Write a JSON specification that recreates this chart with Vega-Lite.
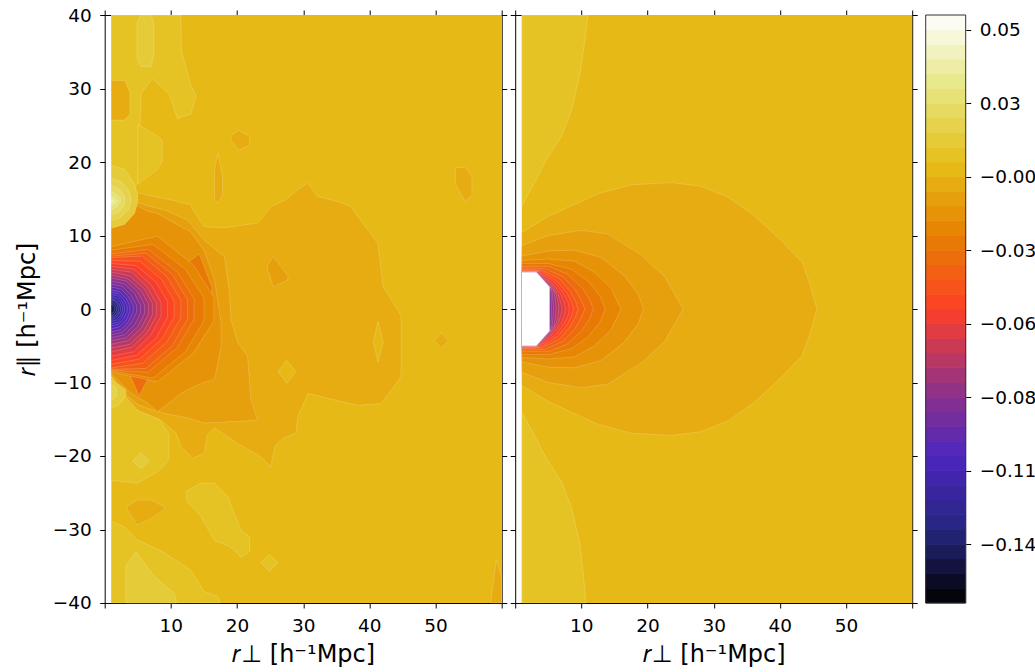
{
  "$schema": "https://vega.github.io/schema/vega-lite/v6.json",
  "description": "Two contour panels of a correlation field with a discrete colour bar",
  "background": "white",
  "padding": {"left": 14.7, "top": 6, "right": 0, "bottom": 0},
  "spacing": 13.5,
  "bounds": "flush",
  "resolve": {"scale": {"color": "shared"}},
  "config": {
    "font": "DejaVu Sans",
    "view": {"stroke": null},
    "axis": {
      "labelFont": "DejaVu Sans", "labelFontSize": 18.5, "labelColor": "#000",
      "tickColor": "#000", "tickSize": 5, "tickWidth": 1,
      "domainColor": "#000", "domainWidth": 1, "grid": false,
      "titleFont": "DejaVu Sans", "titleFontSize": 24, "titleFontWeight": "normal", "titleColor": "#000",
      "labelFlush": false, "labelOverlap": false, "labelPadding": 8.5, "zindex": 1
    }
  },
  "datasets": {
    "left": [
      {"r":"a00","v":0.0016,"x":1,"lo":-40,"hi":40},{"r":"a00","v":0.0016,"x":60,"lo":-40,"hi":40},
      {"r":"a01","v":0.0071,"x":1,"lo":15.7,"hi":40},{"r":"a01","v":0.0071,"x":3,"lo":15.7,"hi":40},{"r":"a01","v":0.0071,"x":5,"lo":17,"hi":40},{"r":"a01","v":0.0071,"x":5.5,"lo":29.3,"hi":40},{"r":"a01","v":0.0071,"x":7.2,"lo":31.3,"hi":40},{"r":"a01","v":0.0071,"x":9.75,"lo":29.3,"hi":40},{"r":"a01","v":0.0071,"x":11,"lo":25.9,"hi":40},{"r":"a01","v":0.0071,"x":11.5,"lo":26.1,"hi":40},{"r":"a01","v":0.0071,"x":11.6,"lo":26.2,"hi":35.1},{"r":"a01","v":0.0071,"x":12.3,"lo":26.3,"hi":32.9},{"r":"a01","v":0.0071,"x":13,"lo":26.5,"hi":30.5},{"r":"a01","v":0.0071,"x":13.8,"lo":29,"hi":29},
      {"r":"a02","v":0.0071,"x":5,"lo":17,"hi":25.1},{"r":"a02","v":0.0071,"x":8,"lo":19,"hi":23.5},{"r":"a02","v":0.0071,"x":8.7,"lo":20.2,"hi":22.9},
      {"r":"a03","v":0.0125,"x":4.9,"lo":34,"hi":39},{"r":"a03","v":0.0125,"x":5.5,"lo":33,"hi":40},{"r":"a03","v":0.0125,"x":7,"lo":33,"hi":40},{"r":"a03","v":0.0125,"x":7.4,"lo":34.5,"hi":39},
      {"r":"a04","v":-0.0038,"x":1,"lo":25.7,"hi":31.1},{"r":"a04","v":-0.0038,"x":3,"lo":25.7,"hi":31.1},{"r":"a04","v":-0.0038,"x":3.8,"lo":26.5,"hi":29.5},
      {"r":"a05","v":0.0071,"x":1,"lo":-23.3,"hi":-9.2},{"r":"a05","v":0.0071,"x":4.9,"lo":-23.7,"hi":-13.7},{"r":"a05","v":0.0071,"x":8.2,"lo":-22,"hi":-15},{"r":"a05","v":0.0071,"x":9.7,"lo":-20.5,"hi":-17},
      {"r":"a06","v":0.0125,"x":4.2,"lo":-20.65,"hi":-20.65},{"r":"a06","v":0.0125,"x":5.45,"lo":-21.7,"hi":-19.6},{"r":"a06","v":0.0125,"x":6.7,"lo":-20.65,"hi":-20.65},
      {"r":"a07","v":0.0071,"x":1,"lo":-40,"hi":-28.9},{"r":"a07","v":0.0071,"x":2.9,"lo":-40,"hi":-29.6},{"r":"a07","v":0.0071,"x":4.9,"lo":-40,"hi":-31.4},{"r":"a07","v":0.0071,"x":8.7,"lo":-40,"hi":-33},{"r":"a07","v":0.0071,"x":13,"lo":-40,"hi":-35.5},{"r":"a07","v":0.0071,"x":15,"lo":-40,"hi":-38.4},{"r":"a07","v":0.0071,"x":17.1,"lo":-40,"hi":-39.1},{"r":"a07","v":0.0071,"x":17.5,"lo":-40,"hi":-40},
      {"r":"a08","v":0.0125,"x":3.2,"lo":-40,"hi":-35},{"r":"a08","v":0.0125,"x":4.7,"lo":-40,"hi":-33},{"r":"a08","v":0.0125,"x":7.5,"lo":-40,"hi":-36.4},{"r":"a08","v":0.0125,"x":10.5,"lo":-40,"hi":-38.7},{"r":"a08","v":0.0125,"x":10.8,"lo":-40,"hi":-39.8},
      {"r":"a09","v":-0.0038,"x":3.4,"lo":-27.3,"hi":-26.9},{"r":"a09","v":-0.0038,"x":4.9,"lo":-29.4,"hi":-26},{"r":"a09","v":-0.0038,"x":7,"lo":-28.5,"hi":-26},{"r":"a09","v":-0.0038,"x":9,"lo":-27.3,"hi":-26.9},
      {"r":"a10","v":0.0071,"x":12.3,"lo":-26,"hi":-24.8},{"r":"a10","v":0.0071,"x":14.5,"lo":-28.2,"hi":-23.7},{"r":"a10","v":0.0071,"x":16.6,"lo":-31.5,"hi":-23.7},{"r":"a10","v":0.0071,"x":18.6,"lo":-32.2,"hi":-25.5},{"r":"a10","v":0.0071,"x":19.3,"lo":-32.6,"hi":-27.1},{"r":"a10","v":0.0071,"x":20.6,"lo":-33.8,"hi":-30.1},{"r":"a10","v":0.0071,"x":21.9,"lo":-33,"hi":-31},
      {"r":"a11","v":0.0071,"x":23.6,"lo":-34.5,"hi":-34.5},{"r":"a11","v":0.0071,"x":24.9,"lo":-35.7,"hi":-33.4},{"r":"a11","v":0.0071,"x":26.2,"lo":-34.5,"hi":-34.5},
      {"r":"a12","v":-0.0038,"x":58.4,"lo":-40,"hi":-39.5},{"r":"a12","v":-0.0038,"x":59.2,"lo":-40,"hi":-34.1},{"r":"a12","v":-0.0038,"x":60,"lo":-40,"hi":-36.5},
      {"r":"a13","v":-0.0038,"x":1,"lo":-9.2,"hi":16.5},{"r":"a13","v":-0.0038,"x":2.7,"lo":-11.5,"hi":16.2},{"r":"a13","v":-0.0038,"x":5,"lo":-13.8,"hi":15.8},{"r":"a13","v":-0.0038,"x":8.5,"lo":-15.1,"hi":15.1},{"r":"a13","v":-0.0038,"x":10.8,"lo":-16.9,"hi":14.7},{"r":"a13","v":-0.0038,"x":11.5,"lo":-18.7,"hi":14.5},{"r":"a13","v":-0.0038,"x":13,"lo":-20,"hi":14.2},{"r":"a13","v":-0.0038,"x":13.3,"lo":-20.3,"hi":13.5},{"r":"a13","v":-0.0038,"x":15.05,"lo":-19.6,"hi":11.2},{"r":"a13","v":-0.0038,"x":15.5,"lo":-17.1,"hi":11.15},{"r":"a13","v":-0.0038,"x":16.6,"lo":-16.2,"hi":11.1},{"r":"a13","v":-0.0038,"x":18.6,"lo":-17.4,"hi":11.1},{"r":"a13","v":-0.0038,"x":20.1,"lo":-18.3,"hi":11.3},{"r":"a13","v":-0.0038,"x":23.1,"lo":-19.8,"hi":11.7},{"r":"a13","v":-0.0038,"x":23.6,"lo":-20.1,"hi":12.2},{"r":"a13","v":-0.0038,"x":25.1,"lo":-21.5,"hi":13.9},{"r":"a13","v":-0.0038,"x":25.7,"lo":-18.7,"hi":14.2},{"r":"a13","v":-0.0038,"x":26.7,"lo":-17.8,"hi":14.6},{"r":"a13","v":-0.0038,"x":27.2,"lo":-17.5,"hi":14.8},{"r":"a13","v":-0.0038,"x":28.9,"lo":-16.9,"hi":16},{"r":"a13","v":-0.0038,"x":29.2,"lo":-14.6,"hi":16.3},{"r":"a13","v":-0.0038,"x":30.7,"lo":-11.5,"hi":17.1},{"r":"a13","v":-0.0038,"x":32.2,"lo":-11.8,"hi":15.3},{"r":"a13","v":-0.0038,"x":35.3,"lo":-12.5,"hi":14.6},{"r":"a13","v":-0.0038,"x":37.3,"lo":-12.9,"hi":13.9},{"r":"a13","v":-0.0038,"x":38.3,"lo":-13.1,"hi":12.5},{"r":"a13","v":-0.0038,"x":41.3,"lo":-12.9,"hi":8.9},{"r":"a13","v":-0.0038,"x":41.8,"lo":-12.8,"hi":5},{"r":"a13","v":-0.0038,"x":42.1,"lo":-12.5,"hi":3},{"r":"a13","v":-0.0038,"x":44.6,"lo":-9.5,"hi":-0.6},{"r":"a13","v":-0.0038,"x":44.8,"lo":-8.7,"hi":-1},
      {"r":"a14","v":0.0016,"x":26.2,"lo":-8.5,"hi":-8.5},{"r":"a14","v":0.0016,"x":27.5,"lo":-10.1,"hi":-7},{"r":"a14","v":0.0016,"x":28.9,"lo":-8.5,"hi":-8.5},
      {"r":"a15","v":0.0016,"x":40.6,"lo":-4.5,"hi":-4.5},{"r":"a15","v":0.0016,"x":41.3,"lo":-7.2,"hi":-1.7},{"r":"a15","v":0.0016,"x":42.1,"lo":-4.5,"hi":-4.5},
      {"r":"a16","v":-0.0092,"x":24.6,"lo":5.5,"hi":6},{"r":"a16","v":-0.0092,"x":25.5,"lo":3,"hi":7.1},{"r":"a16","v":-0.0092,"x":27.7,"lo":4,"hi":4.5},
      {"r":"a17","v":-0.0038,"x":19.1,"lo":23,"hi":23.6},{"r":"a17","v":-0.0038,"x":20.2,"lo":21.6,"hi":24.3},{"r":"a17","v":-0.0038,"x":21.9,"lo":22.3,"hi":23.5},
      {"r":"a18","v":-0.0038,"x":16.6,"lo":15,"hi":19},{"r":"a18","v":-0.0038,"x":17.1,"lo":14.4,"hi":21.2},{"r":"a18","v":-0.0038,"x":17.8,"lo":15.5,"hi":18},
      {"r":"a19","v":-0.0038,"x":53,"lo":17,"hi":19.2},{"r":"a19","v":-0.0038,"x":54.5,"lo":14.6,"hi":19.3},{"r":"a19","v":-0.0038,"x":55.5,"lo":15.5,"hi":18},
      {"r":"a20","v":-0.0038,"x":49.8,"lo":-4.3,"hi":-4.3},{"r":"a20","v":-0.0038,"x":50.9,"lo":-5.3,"hi":-3.3},{"r":"a20","v":-0.0038,"x":52,"lo":-4.3,"hi":-4.3},
      {"r":"a21","v":-0.0092,"x":1,"lo":-9,"hi":16},{"r":"a21","v":-0.0092,"x":3,"lo":-11.5,"hi":15.7},{"r":"a21","v":-0.0092,"x":5,"lo":-13,"hi":14.5},{"r":"a21","v":-0.0092,"x":6.5,"lo":-13.5,"hi":14},{"r":"a21","v":-0.0092,"x":9,"lo":-14.2,"hi":13.5},{"r":"a21","v":-0.0092,"x":12.5,"lo":-14.8,"hi":12.1},{"r":"a21","v":-0.0092,"x":15,"lo":-15.5,"hi":9.4},{"r":"a21","v":-0.0092,"x":18.1,"lo":-15.4,"hi":7.1},{"r":"a21","v":-0.0092,"x":18.8,"lo":-15.3,"hi":2.6},{"r":"a21","v":-0.0092,"x":19.1,"lo":-15.3,"hi":-1.5},{"r":"a21","v":-0.0092,"x":20.1,"lo":-15.3,"hi":-4.5},{"r":"a21","v":-0.0092,"x":21.6,"lo":-15.2,"hi":-6.5},{"r":"a21","v":-0.0092,"x":22.1,"lo":-15.1,"hi":-12.4},{"r":"a21","v":-0.0092,"x":23.1,"lo":-15.1,"hi":-15.1},
      {"r":"a22","v":-0.0147,"x":1,"lo":-8.8,"hi":14.5},{"r":"a22","v":-0.0147,"x":4,"lo":-11.5,"hi":14.5},{"r":"a22","v":-0.0147,"x":6.5,"lo":-12.8,"hi":13.3},{"r":"a22","v":-0.0147,"x":8,"lo":-14,"hi":13},{"r":"a22","v":-0.0147,"x":11.5,"lo":-11.5,"hi":11.2},{"r":"a22","v":-0.0147,"x":13,"lo":-10.8,"hi":10.5},{"r":"a22","v":-0.0147,"x":15,"lo":-10,"hi":8},{"r":"a22","v":-0.0147,"x":16.6,"lo":-9.6,"hi":4},{"r":"a22","v":-0.0147,"x":17.6,"lo":-5,"hi":-2},
      {"r":"a22b","v":-0.031,"x":3.8,"lo":-9,"hi":-8},{"r":"a22b","v":-0.031,"x":5.2,"lo":-11.8,"hi":-7},{"r":"a22b","v":-0.031,"x":6.8,"lo":-9,"hi":-8},
      {"r":"a22c","v":-0.0256,"x":12,"lo":5,"hi":6},{"r":"a22c","v":-0.0256,"x":14.3,"lo":2,"hi":7.5},{"r":"a22c","v":-0.0256,"x":16.2,"lo":1,"hi":3},
      {"r":"a23","v":-0.0201,"x":1,"lo":-8.6,"hi":8.5},{"r":"a23","v":-0.0201,"x":8,"lo":-9.9,"hi":9.9},{"r":"a23","v":-0.0201,"x":13.4,"lo":-6,"hi":6},{"r":"a23","v":-0.0201,"x":16.5,"lo":-1.6,"hi":1.6},
      {"r":"a24","v":-0.0256,"x":1,"lo":-8.4,"hi":8},{"r":"a24","v":-0.0256,"x":7.3,"lo":-9.4,"hi":8.8},{"r":"a24","v":-0.0256,"x":12.2,"lo":-5.8,"hi":5.4},{"r":"a24","v":-0.0256,"x":15,"lo":-1.6,"hi":1.5},
      {"r":"a25","v":-0.031,"x":1,"lo":-8.3,"hi":7.5},{"r":"a25","v":-0.031,"x":6.6,"lo":-8.6,"hi":8.1},{"r":"a25","v":-0.031,"x":11,"lo":-5.2,"hi":5},{"r":"a25","v":-0.031,"x":13.5,"lo":-1.4,"hi":1.4},
      {"r":"a26","v":-0.0364,"x":1,"lo":-8.2,"hi":7.2},{"r":"a26","v":-0.0364,"x":6.2,"lo":-8.1,"hi":7.6},{"r":"a26","v":-0.0364,"x":10.2,"lo":-5,"hi":4.7},{"r":"a26","v":-0.0364,"x":12.5,"lo":-1.4,"hi":1.3},
      {"r":"a27","v":-0.0419,"x":1,"lo":-8,"hi":7},{"r":"a27","v":-0.0419,"x":5.7,"lo":-7.4,"hi":7.2},{"r":"a27","v":-0.0419,"x":9.4,"lo":-4.5,"hi":4.4},{"r":"a27","v":-0.0419,"x":11.5,"lo":-1.2,"hi":1.2},
      {"r":"a28","v":-0.0473,"x":1,"lo":-7.5,"hi":6.6},{"r":"a28","v":-0.0473,"x":5.3,"lo":-6.8,"hi":6.5},{"r":"a28","v":-0.0473,"x":8.6,"lo":-4.1,"hi":4},{"r":"a28","v":-0.0473,"x":10.5,"lo":-1.1,"hi":1.1},
      {"r":"a29","v":-0.0528,"x":1,"lo":-7,"hi":6.2},{"r":"a29","v":-0.0528,"x":4.8,"lo":-6.3,"hi":5.9},{"r":"a29","v":-0.0528,"x":7.8,"lo":-3.9,"hi":3.6},{"r":"a29","v":-0.0528,"x":9.5,"lo":-1.1,"hi":1},
      {"r":"a30","v":-0.0582,"x":1,"lo":-6.4,"hi":5.8},{"r":"a30","v":-0.0582,"x":4.4,"lo":-5.8,"hi":5.4},{"r":"a30","v":-0.0582,"x":7,"lo":-3.5,"hi":3.3},{"r":"a30","v":-0.0582,"x":8.5,"lo":-1,"hi":0.9},
      {"r":"a31","v":-0.0636,"x":1,"lo":-5.8,"hi":5.4},{"r":"a31","v":-0.0636,"x":4.1,"lo":-5.2,"hi":5},{"r":"a31","v":-0.0636,"x":6.4,"lo":-3.2,"hi":3},{"r":"a31","v":-0.0636,"x":7.8,"lo":-0.9,"hi":0.8},
      {"r":"a32","v":-0.0691,"x":1,"lo":-5.3,"hi":5},{"r":"a32","v":-0.0691,"x":3.8,"lo":-4.8,"hi":4.5},{"r":"a32","v":-0.0691,"x":6,"lo":-2.9,"hi":2.75},{"r":"a32","v":-0.0691,"x":7.2,"lo":-0.8,"hi":0.75},
      {"r":"a33","v":-0.0745,"x":1,"lo":-4.8,"hi":4.6},{"r":"a33","v":-0.0745,"x":3.5,"lo":-4.3,"hi":4.1},{"r":"a33","v":-0.0745,"x":5.5,"lo":-2.6,"hi":2.5},{"r":"a33","v":-0.0745,"x":6.6,"lo":-0.7,"hi":0.7},
      {"r":"a34","v":-0.08,"x":1,"lo":-4.3,"hi":4.2},{"r":"a34","v":-0.08,"x":3.25,"lo":-3.9,"hi":3.8},{"r":"a34","v":-0.08,"x":5,"lo":-2.4,"hi":2.3},{"r":"a34","v":-0.08,"x":6,"lo":-0.65,"hi":0.6},
      {"r":"a35","v":-0.0854,"x":1,"lo":-3.9,"hi":3.8},{"r":"a35","v":-0.0854,"x":3,"lo":-3.5,"hi":3.4},{"r":"a35","v":-0.0854,"x":4.5,"lo":-2.15,"hi":2.1},{"r":"a35","v":-0.0854,"x":5.4,"lo":-0.6,"hi":0.55},
      {"r":"a36","v":-0.0908,"x":1,"lo":-3.5,"hi":3.4},{"r":"a36","v":-0.0908,"x":2.7,"lo":-3.15,"hi":3.05},{"r":"a36","v":-0.0908,"x":4,"lo":-1.9,"hi":1.85},{"r":"a36","v":-0.0908,"x":4.8,"lo":-0.5,"hi":0.5},
      {"r":"a37","v":-0.0963,"x":1,"lo":-3.1,"hi":3},{"r":"a37","v":-0.0963,"x":2.5,"lo":-2.8,"hi":2.7},{"r":"a37","v":-0.0963,"x":3.6,"lo":-1.7,"hi":1.65},{"r":"a37","v":-0.0963,"x":4.3,"lo":-0.45,"hi":0.45},
      {"r":"a38","v":-0.1017,"x":1,"lo":-2.7,"hi":2.6},{"r":"a38","v":-0.1017,"x":2.25,"lo":-2.4,"hi":2.35},{"r":"a38","v":-0.1017,"x":3.25,"lo":-1.5,"hi":1.45},{"r":"a38","v":-0.1017,"x":3.8,"lo":-0.4,"hi":0.4},
      {"r":"a39","v":-0.1071,"x":1,"lo":-2.3,"hi":2.3},{"r":"a39","v":-0.1071,"x":2.1,"lo":-2.05,"hi":2.05},{"r":"a39","v":-0.1071,"x":2.9,"lo":-1.25,"hi":1.25},{"r":"a39","v":-0.1071,"x":3.4,"lo":-0.35,"hi":0.35},
      {"r":"a40","v":-0.1126,"x":1,"lo":-2,"hi":2},{"r":"a40","v":-0.1126,"x":1.9,"lo":-1.8,"hi":1.8},{"r":"a40","v":-0.1126,"x":2.6,"lo":-1.1,"hi":1.1},{"r":"a40","v":-0.1126,"x":3,"lo":-0.3,"hi":0.3},
      {"r":"a41","v":-0.118,"x":1,"lo":-1.7,"hi":1.7},{"r":"a41","v":-0.118,"x":1.75,"lo":-1.5,"hi":1.5},{"r":"a41","v":-0.118,"x":2.35,"lo":-0.95,"hi":0.95},{"r":"a41","v":-0.118,"x":2.7,"lo":-0.25,"hi":0.25},
      {"r":"a42","v":-0.1235,"x":1,"lo":-1.4,"hi":1.4},{"r":"a42","v":-0.1235,"x":1.6,"lo":-1.25,"hi":1.25},{"r":"a42","v":-0.1235,"x":2.1,"lo":-0.75,"hi":0.75},{"r":"a42","v":-0.1235,"x":2.4,"lo":-0.2,"hi":0.2},
      {"r":"a43","v":-0.1289,"x":1,"lo":-1.1,"hi":1.2},{"r":"a43","v":-0.1289,"x":1.5,"lo":-1,"hi":1.1},{"r":"a43","v":-0.1289,"x":1.9,"lo":-0.6,"hi":0.65},{"r":"a43","v":-0.1289,"x":2.1,"lo":-0.17,"hi":0.18},
      {"r":"a44","v":-0.1343,"x":1,"lo":-0.9,"hi":0.9},{"r":"a44","v":-0.1343,"x":1.35,"lo":-0.8,"hi":0.8},{"r":"a44","v":-0.1343,"x":1.65,"lo":-0.5,"hi":0.5},{"r":"a44","v":-0.1343,"x":1.8,"lo":-0.14,"hi":0.14},
      {"r":"a45","v":-0.1398,"x":1,"lo":-0.6,"hi":0.6},{"r":"a45","v":-0.1398,"x":1.25,"lo":-0.54,"hi":0.54},{"r":"a45","v":-0.1398,"x":1.4,"lo":-0.33,"hi":0.33},{"r":"a45","v":-0.1398,"x":1.5,"lo":-0.1,"hi":0.1},
      {"r":"a46","v":0.0125,"x":1,"lo":11,"hi":19.5},{"r":"a46","v":0.0125,"x":3,"lo":11.5,"hi":19},{"r":"a46","v":0.0125,"x":4.5,"lo":13,"hi":17},{"r":"a46","v":0.0125,"x":5,"lo":14.5,"hi":15.5},
      {"r":"a47","v":0.018,"x":1,"lo":12,"hi":17.8},{"r":"a47","v":0.018,"x":2.5,"lo":12.5,"hi":17.3},{"r":"a47","v":0.018,"x":3.6,"lo":13.5,"hi":16.2},{"r":"a47","v":0.018,"x":4,"lo":14.6,"hi":15},
      {"r":"a48","v":0.0234,"x":1,"lo":12.8,"hi":16.8},{"r":"a48","v":0.0234,"x":2.2,"lo":13.2,"hi":16.3},{"r":"a48","v":0.0234,"x":3,"lo":14.3,"hi":15.3},
      {"r":"a49","v":0.0288,"x":1,"lo":13.5,"hi":16},{"r":"a49","v":0.0288,"x":1.8,"lo":13.9,"hi":15.6},{"r":"a49","v":0.0288,"x":2.4,"lo":14.6,"hi":15},
      {"r":"a50","v":0.0343,"x":1,"lo":14.1,"hi":15.3},{"r":"a50","v":0.0343,"x":1.5,"lo":14.3,"hi":15.1},{"r":"a50","v":0.0343,"x":1.9,"lo":14.6,"hi":14.8},
      {"r":"a51","v":0.0397,"x":1,"lo":14.4,"hi":15},{"r":"a51","v":0.0397,"x":1.3,"lo":14.6,"hi":14.8},
      {"r":"a52","v":0.0125,"x":1,"lo":-13.5,"hi":-9.7},{"r":"a52","v":0.0125,"x":2.2,"lo":-13,"hi":-10.3},{"r":"a52","v":0.0125,"x":3.2,"lo":-11.8,"hi":-11},
      {"r":"a53","v":0.018,"x":1,"lo":-12.5,"hi":-10.3},{"r":"a53","v":0.018,"x":1.8,"lo":-11.8,"hi":-10.8}
    ],
    "right": [
      {"r":"b00","v":0.0016,"x":1,"lo":-40,"hi":40},{"r":"b00","v":0.0016,"x":60,"lo":-40,"hi":40},
      {"r":"b01","v":0.0071,"x":1,"lo":14,"hi":40},{"r":"b01","v":0.0071,"x":2.5,"lo":16.5,"hi":40},{"r":"b01","v":0.0071,"x":4.7,"lo":20.3,"hi":40},{"r":"b01","v":0.0071,"x":7,"lo":23.5,"hi":40},{"r":"b01","v":0.0071,"x":8.5,"lo":27,"hi":40},{"r":"b01","v":0.0071,"x":9.8,"lo":32,"hi":40},{"r":"b01","v":0.0071,"x":10.6,"lo":37,"hi":40},{"r":"b01","v":0.0071,"x":11,"lo":40,"hi":40},
      {"r":"b02","v":0.0071,"x":1,"lo":-40,"hi":-14},{"r":"b02","v":0.0071,"x":2.5,"lo":-40,"hi":-16.5},{"r":"b02","v":0.0071,"x":4.7,"lo":-40,"hi":-20.3},{"r":"b02","v":0.0071,"x":7,"lo":-40,"hi":-23.5},{"r":"b02","v":0.0071,"x":8.5,"lo":-40,"hi":-27},{"r":"b02","v":0.0071,"x":9.8,"lo":-40,"hi":-32},{"r":"b02","v":0.0071,"x":10.4,"lo":-40,"hi":-37},{"r":"b02","v":0.0071,"x":10.7,"lo":-40,"hi":-40},
      {"r":"b03","v":-0.0038,"x":1,"lo":-10.4,"hi":10.4},{"r":"b03","v":-0.0038,"x":5,"lo":-12.6,"hi":12.6},{"r":"b03","v":-0.0038,"x":12.6,"lo":-15.7,"hi":15.7},{"r":"b03","v":-0.0038,"x":17.6,"lo":-16.9,"hi":16.9},{"r":"b03","v":-0.0038,"x":23.7,"lo":-17.2,"hi":17.2},{"r":"b03","v":-0.0038,"x":28,"lo":-16.7,"hi":16.7},{"r":"b03","v":-0.0038,"x":32,"lo":-15.3,"hi":15.3},{"r":"b03","v":-0.0038,"x":36,"lo":-12.8,"hi":12.8},{"r":"b03","v":-0.0038,"x":40,"lo":-9.5,"hi":9.5},{"r":"b03","v":-0.0038,"x":43.4,"lo":-6.3,"hi":6.3},{"r":"b03","v":-0.0038,"x":44.5,"lo":-3.5,"hi":3.5},{"r":"b03","v":-0.0038,"x":45.6,"lo":0,"hi":0},
      {"r":"b04","v":-0.0092,"x":1,"lo":-8.6,"hi":8.6},{"r":"b04","v":-0.0092,"x":5,"lo":-10,"hi":10},{"r":"b04","v":-0.0092,"x":10,"lo":-10.7,"hi":10.7},{"r":"b04","v":-0.0092,"x":14,"lo":-10.2,"hi":10.2},{"r":"b04","v":-0.0092,"x":19.1,"lo":-7.3,"hi":7.3},{"r":"b04","v":-0.0092,"x":22.6,"lo":-4.4,"hi":4.4},{"r":"b04","v":-0.0092,"x":25.4,"lo":0,"hi":0},
      {"r":"b05","v":-0.0147,"x":1,"lo":-7.2,"hi":7.2},{"r":"b05","v":-0.0147,"x":5,"lo":-7.9,"hi":7.9},{"r":"b05","v":-0.0147,"x":9,"lo":-8,"hi":8},{"r":"b05","v":-0.0147,"x":13,"lo":-7,"hi":7},{"r":"b05","v":-0.0147,"x":16.5,"lo":-4.5,"hi":4.5},{"r":"b05","v":-0.0147,"x":18.6,"lo":-2,"hi":2},{"r":"b05","v":-0.0147,"x":19.4,"lo":0,"hi":0},
      {"r":"b06","v":-0.0201,"x":1,"lo":-6.6,"hi":6.6},{"r":"b06","v":-0.0201,"x":5,"lo":-6.8,"hi":6.8},{"r":"b06","v":-0.0201,"x":9,"lo":-6.5,"hi":6.5},{"r":"b06","v":-0.0201,"x":12,"lo":-5,"hi":5},{"r":"b06","v":-0.0201,"x":14.5,"lo":-2.8,"hi":2.8},{"r":"b06","v":-0.0201,"x":16,"lo":0,"hi":0},
      {"r":"b07","v":-0.0256,"x":1,"lo":-6.2,"hi":6.2},{"r":"b07","v":-0.0256,"x":5,"lo":-6.2,"hi":6.2},{"r":"b07","v":-0.0256,"x":8.5,"lo":-5.4,"hi":5.4},{"r":"b07","v":-0.0256,"x":11,"lo":-3.8,"hi":3.8},{"r":"b07","v":-0.0256,"x":12.8,"lo":-1.8,"hi":1.8},{"r":"b07","v":-0.0256,"x":13.6,"lo":0,"hi":0},
      {"r":"b08","v":-0.031,"x":1,"lo":-5.8,"hi":5.8},{"r":"b08","v":-0.031,"x":5,"lo":-5.8,"hi":5.8},{"r":"b08","v":-0.031,"x":7.8,"lo":-4.8,"hi":4.8},{"r":"b08","v":-0.031,"x":10,"lo":-3,"hi":3},{"r":"b08","v":-0.031,"x":11.2,"lo":-1.4,"hi":1.4},{"r":"b08","v":-0.031,"x":11.8,"lo":0,"hi":0},
      {"r":"b09","v":-0.0364,"x":1,"lo":-5.6,"hi":5.6},{"r":"b09","v":-0.0364,"x":4.5,"lo":-5.5,"hi":5.5},{"r":"b09","v":-0.0364,"x":7.2,"lo":-4.4,"hi":4.4},{"r":"b09","v":-0.0364,"x":9,"lo":-2.7,"hi":2.7},{"r":"b09","v":-0.0364,"x":10,"lo":-1.2,"hi":1.2},{"r":"b09","v":-0.0364,"x":10.5,"lo":0,"hi":0},
      {"r":"b10","v":-0.0419,"x":1,"lo":-5.4,"hi":5.4},{"r":"b10","v":-0.0419,"x":4,"lo":-5.3,"hi":5.3},{"r":"b10","v":-0.0419,"x":6.7,"lo":-4.1,"hi":4.1},{"r":"b10","v":-0.0419,"x":8.3,"lo":-2.4,"hi":2.4},{"r":"b10","v":-0.0419,"x":9.1,"lo":-1.1,"hi":1.1},{"r":"b10","v":-0.0419,"x":9.5,"lo":0,"hi":0},
      {"r":"b11","v":-0.0473,"x":1,"lo":-5.3,"hi":5.3},{"r":"b11","v":-0.0473,"x":3.8,"lo":-5.2,"hi":5.2},{"r":"b11","v":-0.0473,"x":6.3,"lo":-3.8,"hi":3.8},{"r":"b11","v":-0.0473,"x":7.8,"lo":-2.2,"hi":2.2},{"r":"b11","v":-0.0473,"x":8.5,"lo":-1,"hi":1},{"r":"b11","v":-0.0473,"x":8.8,"lo":0,"hi":0},
      {"r":"b12","v":-0.0528,"x":1,"lo":-5.2,"hi":5.2},{"r":"b12","v":-0.0528,"x":3.6,"lo":-5.1,"hi":5.1},{"r":"b12","v":-0.0528,"x":6,"lo":-3.6,"hi":3.6},{"r":"b12","v":-0.0528,"x":7.3,"lo":-2.1,"hi":2.1},{"r":"b12","v":-0.0528,"x":8,"lo":-0.9,"hi":0.9},{"r":"b12","v":-0.0528,"x":8.2,"lo":0,"hi":0},
      {"r":"b13","v":-0.0582,"x":1,"lo":-5.15,"hi":5.15},{"r":"b13","v":-0.0582,"x":3.5,"lo":-5.05,"hi":5.05},{"r":"b13","v":-0.0582,"x":5.7,"lo":-3.4,"hi":3.4},{"r":"b13","v":-0.0582,"x":6.9,"lo":-2,"hi":2},{"r":"b13","v":-0.0582,"x":7.4,"lo":-0.9,"hi":0.9},{"r":"b13","v":-0.0582,"x":7.6,"lo":0,"hi":0},
      {"r":"b14","v":-0.0636,"x":1,"lo":-5.1,"hi":5.1},{"r":"b14","v":-0.0636,"x":3.4,"lo":-5,"hi":5},{"r":"b14","v":-0.0636,"x":5.5,"lo":-3.3,"hi":3.3},{"r":"b14","v":-0.0636,"x":6.5,"lo":-2,"hi":2},{"r":"b14","v":-0.0636,"x":6.9,"lo":-0.8,"hi":0.8},{"r":"b14","v":-0.0636,"x":7.1,"lo":0,"hi":0},
      {"r":"b15","v":-0.0691,"x":1,"lo":-5.05,"hi":5.05},{"r":"b15","v":-0.0691,"x":3.3,"lo":-5,"hi":5},{"r":"b15","v":-0.0691,"x":5.4,"lo":-3.2,"hi":3.2},{"r":"b15","v":-0.0691,"x":6.2,"lo":-2,"hi":2},{"r":"b15","v":-0.0691,"x":6.5,"lo":-0.8,"hi":0.8},{"r":"b15","v":-0.0691,"x":6.6,"lo":0,"hi":0},
      {"r":"b16","v":-0.0745,"x":1,"lo":-5.02,"hi":5.02},{"r":"b16","v":-0.0745,"x":3.25,"lo":-5,"hi":5},{"r":"b16","v":-0.0745,"x":5.3,"lo":-3.1,"hi":3.1},{"r":"b16","v":-0.0745,"x":5.9,"lo":-2.2,"hi":2.2},{"r":"b16","v":-0.0745,"x":6.2,"lo":0,"hi":0},
      {"r":"b17","v":-0.08,"x":1,"lo":-5.01,"hi":5.01},{"r":"b17","v":-0.08,"x":3.22,"lo":-5,"hi":5},{"r":"b17","v":-0.08,"x":5.25,"lo":-3.05,"hi":3.05},{"r":"b17","v":-0.08,"x":5.6,"lo":-2.3,"hi":2.3},{"r":"b17","v":-0.08,"x":5.8,"lo":0,"hi":0},
      {"r":"b18","v":-0.0854,"x":1,"lo":-5,"hi":5},{"r":"b18","v":-0.0854,"x":3.2,"lo":-5,"hi":5},{"r":"b18","v":-0.0854,"x":5.2,"lo":-3,"hi":3},{"r":"b18","v":-0.0854,"x":5.4,"lo":-2.5,"hi":2.5},{"r":"b18","v":-0.0854,"x":5.5,"lo":0,"hi":0},
      {"r":"b19","v":-0.17,"x":1,"lo":-5,"hi":5},{"r":"b19","v":-0.17,"x":3.2,"lo":-5,"hi":5},{"r":"b19","v":-0.17,"x":5.2,"lo":-3,"hi":3}
    ],
    "bar": [
      {"lo":-0.1588,"hi":-0.15336,"v":-0.15608},{"lo":-0.15336,"hi":-0.14792,"v":-0.15064},{"lo":-0.14792,"hi":-0.14248,"v":-0.1452},{"lo":-0.14248,"hi":-0.13704,"v":-0.13976},
      {"lo":-0.13704,"hi":-0.1316,"v":-0.13432},{"lo":-0.1316,"hi":-0.12616,"v":-0.12888},{"lo":-0.12616,"hi":-0.12072,"v":-0.12344},{"lo":-0.12072,"hi":-0.11528,"v":-0.118},
      {"lo":-0.11528,"hi":-0.10984,"v":-0.11256},{"lo":-0.10984,"hi":-0.1044,"v":-0.10712},{"lo":-0.1044,"hi":-0.09896,"v":-0.10168},{"lo":-0.09896,"hi":-0.09352,"v":-0.09624},
      {"lo":-0.09352,"hi":-0.08808,"v":-0.0908},{"lo":-0.08808,"hi":-0.08264,"v":-0.08536},{"lo":-0.08264,"hi":-0.0772,"v":-0.07992},{"lo":-0.0772,"hi":-0.07176,"v":-0.07448},
      {"lo":-0.07176,"hi":-0.06632,"v":-0.06904},{"lo":-0.06632,"hi":-0.06088,"v":-0.0636},{"lo":-0.06088,"hi":-0.05544,"v":-0.05816},{"lo":-0.05544,"hi":-0.05,"v":-0.05272},
      {"lo":-0.05,"hi":-0.04456,"v":-0.04728},{"lo":-0.04456,"hi":-0.03912,"v":-0.04184},{"lo":-0.03912,"hi":-0.03368,"v":-0.0364},{"lo":-0.03368,"hi":-0.02824,"v":-0.03096},
      {"lo":-0.02824,"hi":-0.0228,"v":-0.02552},{"lo":-0.0228,"hi":-0.01736,"v":-0.02008},{"lo":-0.01736,"hi":-0.01192,"v":-0.01464},{"lo":-0.01192,"hi":-0.00648,"v":-0.0092},
      {"lo":-0.00648,"hi":-0.00104,"v":-0.00376},{"lo":-0.00104,"hi":0.0044,"v":0.00168},{"lo":0.0044,"hi":0.00984,"v":0.00712},{"lo":0.00984,"hi":0.01528,"v":0.01256},
      {"lo":0.01528,"hi":0.02072,"v":0.018},{"lo":0.02072,"hi":0.02616,"v":0.02344},{"lo":0.02616,"hi":0.0316,"v":0.02888},{"lo":0.0316,"hi":0.03704,"v":0.03432},
      {"lo":0.03704,"hi":0.04248,"v":0.03976},{"lo":0.04248,"hi":0.04792,"v":0.0452},{"lo":0.04792,"hi":0.05336,"v":0.05064},{"lo":0.05336,"hi":0.0588,"v":0.05608}
    ]
  },
  "hconcat": [
    {
      "width": 397, "height": 588,
      "data": {"name": "left"},
      "layer": [
        {
          "transform": [{"filter": "datum.r === 'a00'"}],
          "mark": {"type": "area", "orient": "vertical", "interpolate": "linear"},
          "encoding": {
            "x": {"field": "x", "type": "quantitative", "scale": {"domain": [0, 60], "nice": false, "zero": false},
                  "axis": {"orient": "bottom", "values": [0, 10, 20, 30, 40, 50, 60], "labelExpr": "datum.value == 0 || datum.value == 60 ? '' : datum.label", "title": "𝑟⊥ [h⁻¹Mpc]", "titlePadding": 8}},
            "y": {"field": "lo", "type": "quantitative", "stack": null, "scale": {"domain": [-40, 40], "nice": false, "zero": false},
                  "axis": {"orient": "left", "values": [-40, -30, -20, -10, 0, 10, 20, 30, 40], "title": "𝑟∥ [h⁻¹Mpc]", "titlePadding": 13}},
            "y2": {"field": "hi"},
            "color": {"field": "v", "type": "quantitative", "legend": null,
                      "scale": {"type": "threshold", "domain": [-0.1588,-0.15336,-0.14792,-0.14248,-0.13704,-0.1316,-0.12616,-0.12072,-0.11528,-0.10984,-0.1044,-0.09896,-0.09352,-0.08808,-0.08264,-0.0772,-0.07176,-0.06632,-0.06088,-0.05544,-0.05,-0.04456,-0.03912,-0.03368,-0.02824,-0.0228,-0.01736,-0.01192,-0.00648,-0.00104,0.0044,0.00984,0.01528,0.02072,0.02616,0.0316,0.03704,0.04248,0.04792,0.05336],
                                "range": ["#ffffff","#04040d","#0b0b26","#131340","#1b1b59","#222273","#2a2686","#322693","#39269f","#4126ac","#4926b9","#5428b9","#632aac","#732d9f","#822f93","#913286","#a33477","#b83765","#cc3953","#e03c41","#f53e2f","#fc4622","#f7531b","#f26013","#ed6c0b","#e87904","#e68603","#e69308","#e69f0d","#e6ac12","#e6b917","#e6c324","#e6cb38","#e6d24d","#e6da61","#e6e275","#e8e88c","#ededa6","#f2f2bf","#f7f7d9","#fcfcf2"]}},
            "detail": {"field": "r"}
          }
        },
        {
          "transform": [{"filter": "datum.r !== 'a00'"}],
          "mark": {"type": "area", "orient": "vertical", "interpolate": "linear", "stroke": "#ffffff", "strokeOpacity": 0.25, "strokeWidth": 0.7},
          "encoding": {
            "x": {"field": "x", "type": "quantitative", "axis": {"orient": "top", "values": [0, 10, 20, 30, 40, 50, 60], "labels": false, "title": null}},
            "y": {"field": "lo", "type": "quantitative", "stack": null, "axis": {"orient": "right", "values": [-40, -30, -20, -10, 0, 10, 20, 30, 40], "labels": false, "title": null}},
            "y2": {"field": "hi"},
            "color": {"field": "v", "type": "quantitative", "legend": null,
                      "scale": {"type": "threshold", "domain": [-0.1588,-0.15336,-0.14792,-0.14248,-0.13704,-0.1316,-0.12616,-0.12072,-0.11528,-0.10984,-0.1044,-0.09896,-0.09352,-0.08808,-0.08264,-0.0772,-0.07176,-0.06632,-0.06088,-0.05544,-0.05,-0.04456,-0.03912,-0.03368,-0.02824,-0.0228,-0.01736,-0.01192,-0.00648,-0.00104,0.0044,0.00984,0.01528,0.02072,0.02616,0.0316,0.03704,0.04248,0.04792,0.05336],
                                "range": ["#ffffff","#04040d","#0b0b26","#131340","#1b1b59","#222273","#2a2686","#322693","#39269f","#4126ac","#4926b9","#5428b9","#632aac","#732d9f","#822f93","#913286","#a33477","#b83765","#cc3953","#e03c41","#f53e2f","#fc4622","#f7531b","#f26013","#ed6c0b","#e87904","#e68603","#e69308","#e69f0d","#e6ac12","#e6b917","#e6c324","#e6cb38","#e6d24d","#e6da61","#e6e275","#e8e88c","#ededa6","#f2f2bf","#f7f7d9","#fcfcf2"]}},
            "detail": {"field": "r"}
          }
        }
      ],
      "resolve": {"axis": {"x": "independent", "y": "independent"}}
    },
    {
      "width": 397, "height": 588,
      "data": {"name": "right"},
      "layer": [
        {
          "transform": [{"filter": "datum.r === 'b00'"}],
          "mark": {"type": "area", "orient": "vertical", "interpolate": "linear"},
          "encoding": {
            "x": {"field": "x", "type": "quantitative", "scale": {"domain": [0, 60], "nice": false, "zero": false},
                  "axis": {"orient": "bottom", "values": [0, 10, 20, 30, 40, 50, 60], "labelExpr": "datum.value == 0 || datum.value == 60 ? '' : datum.label", "title": "𝑟⊥ [h⁻¹Mpc]", "titlePadding": 8}},
            "y": {"field": "lo", "type": "quantitative", "stack": null, "scale": {"domain": [-40, 40], "nice": false, "zero": false},
                  "axis": {"orient": "left", "values": [-40, -30, -20, -10, 0, 10, 20, 30, 40], "labels": false, "title": null}},
            "y2": {"field": "hi"},
            "color": {"field": "v", "type": "quantitative", "legend": null,
                      "scale": {"type": "threshold", "domain": [-0.1588,-0.15336,-0.14792,-0.14248,-0.13704,-0.1316,-0.12616,-0.12072,-0.11528,-0.10984,-0.1044,-0.09896,-0.09352,-0.08808,-0.08264,-0.0772,-0.07176,-0.06632,-0.06088,-0.05544,-0.05,-0.04456,-0.03912,-0.03368,-0.02824,-0.0228,-0.01736,-0.01192,-0.00648,-0.00104,0.0044,0.00984,0.01528,0.02072,0.02616,0.0316,0.03704,0.04248,0.04792,0.05336],
                                "range": ["#ffffff","#04040d","#0b0b26","#131340","#1b1b59","#222273","#2a2686","#322693","#39269f","#4126ac","#4926b9","#5428b9","#632aac","#732d9f","#822f93","#913286","#a33477","#b83765","#cc3953","#e03c41","#f53e2f","#fc4622","#f7531b","#f26013","#ed6c0b","#e87904","#e68603","#e69308","#e69f0d","#e6ac12","#e6b917","#e6c324","#e6cb38","#e6d24d","#e6da61","#e6e275","#e8e88c","#ededa6","#f2f2bf","#f7f7d9","#fcfcf2"]}},
            "detail": {"field": "r"}
          }
        },
        {
          "transform": [{"filter": "datum.r !== 'b00'"}],
          "mark": {"type": "area", "orient": "vertical", "interpolate": "linear", "stroke": "#ffffff", "strokeOpacity": 0.25, "strokeWidth": 0.7},
          "encoding": {
            "x": {"field": "x", "type": "quantitative", "axis": {"orient": "top", "values": [0, 10, 20, 30, 40, 50, 60], "labels": false, "title": null}},
            "y": {"field": "lo", "type": "quantitative", "stack": null, "axis": {"orient": "right", "values": [-40, -30, -20, -10, 0, 10, 20, 30, 40], "labels": false, "title": null}},
            "y2": {"field": "hi"},
            "color": {"field": "v", "type": "quantitative", "legend": null,
                      "scale": {"type": "threshold", "domain": [-0.1588,-0.15336,-0.14792,-0.14248,-0.13704,-0.1316,-0.12616,-0.12072,-0.11528,-0.10984,-0.1044,-0.09896,-0.09352,-0.08808,-0.08264,-0.0772,-0.07176,-0.06632,-0.06088,-0.05544,-0.05,-0.04456,-0.03912,-0.03368,-0.02824,-0.0228,-0.01736,-0.01192,-0.00648,-0.00104,0.0044,0.00984,0.01528,0.02072,0.02616,0.0316,0.03704,0.04248,0.04792,0.05336],
                                "range": ["#ffffff","#04040d","#0b0b26","#131340","#1b1b59","#222273","#2a2686","#322693","#39269f","#4126ac","#4926b9","#5428b9","#632aac","#732d9f","#822f93","#913286","#a33477","#b83765","#cc3953","#e03c41","#f53e2f","#fc4622","#f7531b","#f26013","#ed6c0b","#e87904","#e68603","#e69308","#e69f0d","#e6ac12","#e6b917","#e6c324","#e6cb38","#e6d24d","#e6da61","#e6e275","#e8e88c","#ededa6","#f2f2bf","#f7f7d9","#fcfcf2"]}},
            "detail": {"field": "r"}
          }
        }
      ],
      "resolve": {"axis": {"x": "independent", "y": "independent"}}
    },
    {
      "width": 40, "height": 588,
      "layer": [
        {
          "data": {"name": "bar"},
          "mark": {"type": "rect", "strokeWidth": 0.8},
          "encoding": {
            "y": {"field": "lo", "type": "quantitative", "scale": {"domain": [-0.1588, 0.0588], "nice": false, "zero": false},
                  "axis": {"orient": "right", "values": [-0.13704, -0.10984, -0.08264, -0.05544, -0.02824, -0.00104, 0.02616, 0.05336], "labelExpr": "datum.value < 0 ? '−' + format(-datum.value, '.2f') : format(datum.value, '.2f')", "domain": false, "title": null}},
            "y2": {"field": "hi"},
            "color": {"field": "v", "type": "quantitative", "legend": null,
                      "scale": {"type": "threshold", "domain": [-0.1588,-0.15336,-0.14792,-0.14248,-0.13704,-0.1316,-0.12616,-0.12072,-0.11528,-0.10984,-0.1044,-0.09896,-0.09352,-0.08808,-0.08264,-0.0772,-0.07176,-0.06632,-0.06088,-0.05544,-0.05,-0.04456,-0.03912,-0.03368,-0.02824,-0.0228,-0.01736,-0.01192,-0.00648,-0.00104,0.0044,0.00984,0.01528,0.02072,0.02616,0.0316,0.03704,0.04248,0.04792,0.05336],
                                "range": ["#ffffff","#04040d","#0b0b26","#131340","#1b1b59","#222273","#2a2686","#322693","#39269f","#4126ac","#4926b9","#5428b9","#632aac","#732d9f","#822f93","#913286","#a33477","#b83765","#cc3953","#e03c41","#f53e2f","#fc4622","#f7531b","#f26013","#ed6c0b","#e87904","#e68603","#e69308","#e69f0d","#e6ac12","#e6b917","#e6c324","#e6cb38","#e6d24d","#e6da61","#e6e275","#e8e88c","#ededa6","#f2f2bf","#f7f7d9","#fcfcf2"]}},
            "stroke": {"field": "v", "type": "quantitative", "legend": null,
                      "scale": {"type": "threshold", "domain": [-0.1588,-0.15336,-0.14792,-0.14248,-0.13704,-0.1316,-0.12616,-0.12072,-0.11528,-0.10984,-0.1044,-0.09896,-0.09352,-0.08808,-0.08264,-0.0772,-0.07176,-0.06632,-0.06088,-0.05544,-0.05,-0.04456,-0.03912,-0.03368,-0.02824,-0.0228,-0.01736,-0.01192,-0.00648,-0.00104,0.0044,0.00984,0.01528,0.02072,0.02616,0.0316,0.03704,0.04248,0.04792,0.05336],
                                "range": ["#ffffff","#04040d","#0b0b26","#131340","#1b1b59","#222273","#2a2686","#322693","#39269f","#4126ac","#4926b9","#5428b9","#632aac","#732d9f","#822f93","#913286","#a33477","#b83765","#cc3953","#e03c41","#f53e2f","#fc4622","#f7531b","#f26013","#ed6c0b","#e87904","#e68603","#e69308","#e69f0d","#e6ac12","#e6b917","#e6c324","#e6cb38","#e6d24d","#e6da61","#e6e275","#e8e88c","#ededa6","#f2f2bf","#f7f7d9","#fcfcf2"]}}
          }
        },
        {
          "data": {"values": [{"lo": -0.1588, "hi": 0.0588}]},
          "mark": {"type": "rect", "fillOpacity": 0, "stroke": "#333333", "strokeWidth": 1},
          "encoding": {
            "y": {"field": "lo", "type": "quantitative"},
            "y2": {"field": "hi"}
          }
        }
      ]
    }
  ]
}
